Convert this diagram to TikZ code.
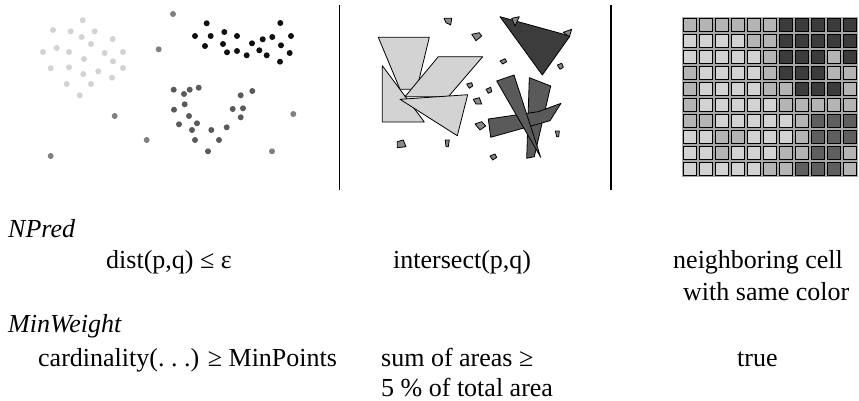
\documentclass[tikz,border=0pt]{standalone}
\usepackage{fontspec}
\setmainfont{Liberation Serif}
\definecolor{cL}{HTML}{D3D3D3}
\definecolor{cM}{HTML}{B4B4B4}
\definecolor{cD}{HTML}{3C3C3C}
\definecolor{cG}{HTML}{5F5F5F}
\definecolor{noise}{HTML}{808080}
\definecolor{dotlight}{HTML}{D3D3D3}
\definecolor{dotdark}{HTML}{5A5A5A}
\definecolor{dotblack}{HTML}{111111}
\definecolor{polylight}{HTML}{D3D3D3}
\definecolor{polydark}{HTML}{3C3C3C}
\definecolor{polymid}{HTML}{5A5A5A}
\definecolor{polysmall}{HTML}{888888}
\begin{document}
\begin{tikzpicture}[x=1pt,y=-1pt,
  txt/.style={anchor=base west,inner sep=0pt,font=\fontsize{26}{31}\selectfont},
  itxt/.style={txt,font=\fontsize{26}{31}\selectfont\itshape},
  poly/.style={draw=black,line width=0.8pt,line join=round},
  sep/.style={draw=black,line width=1.2pt}]
\useasboundingbox (0,0) rectangle (859,400);
% ---- panel 1: points
\foreach \p in {(82.7,20.3),(53,30),(70.7,31.3),(94.7,31.3),(81.7,37),(112.7,39),(91,44),(56.7,48),(43,52),(69,52),(104.7,53),(123,52),(84,59),(113,61.3),(50.7,68.3),(69,67.3),(123,68),(83.3,74),(98.3,71.3),(112,77.7),(66.7,84),(91,84),(79.7,95.3)}
  \fill[dotlight] \p circle (3);
\foreach \p in {(173,14),(158.7,49.3),(114.7,116),(50.7,156),(146.7,140),(293.3,114),(272,151.3)}
  \fill[noise] \p circle (3);
\foreach \p in {(206.7,23.3),(280.3,23),(195,36),(210.7,36),(224.3,32),(237,36),(291,36),(205,46),(223,44),(252,43.3),(262.7,39.3),(272.3,37),(281,45.3),(227,52.3),(237,51),(246.7,55.3),(259.3,50.3),(266.7,55.3),(289.7,53),(280,61.7)}
  \fill[dotblack] \p circle (3);
\foreach \p in {(173.7,89.7),(184,94),(189.7,89.7),(198.7,87.7),(184.7,104.3),(174,109.7),(189,116),(179,124.3),(197,123.3),(192,130),(195,140),(211.3,130),(219,140),(208,151.3),(226.7,127.3),(232.7,109),(243,108.3),(240.7,117.3),(240.7,95.3),(252.3,91)}
  \fill[dotdark] \p circle (3);
% ---- separators
\coordinate (s1t) at (339.5,5); \coordinate (s1b) at (339.5,190);
\coordinate (s2t) at (611,5);   \coordinate (s2b) at (611,190);
\draw[sep] (s1t) -- (s1b);
\draw[sep] (s2t) -- (s2b);
% ---- panel 2: polygons
\filldraw[poly,fill=polylight] (378.3,37.3) -- (429.3,37.3) -- (416.7,89.3) -- (400,89.3) -- cycle;
\filldraw[poly,fill=polylight] (382.3,65.7) -- (382.3,122) -- (424.3,122) -- cycle;
\filldraw[poly,fill=polylight] (438.3,56.7) -- (482.7,56.7) -- (448.3,96.7) -- (405,96.7) -- cycle;
\filldraw[poly,fill=polylight] (400,99.3) -- (467.7,94.7) -- (457.3,135.7) -- cycle;
\filldraw[poly,fill=polydark] (500,16.7) -- (570,36) -- (542.3,75) -- cycle;
\filldraw[poly,fill=polysmall] (511.7,18.3) -- (519.3,16.7) -- (515,26) -- cycle;
\filldraw[poly,fill=polysmall] (563.3,32.3) -- (571.7,29.3) -- (569.3,36.7) -- cycle;
\filldraw[poly,fill=polymid] (529.3,77.7) -- (550.7,86) -- (534.3,156.7) -- (526.7,158.3) -- cycle;
\filldraw[poly,fill=polymid] (488.3,119) -- (538.3,111.7) -- (561,103.3) -- (550,120.7) -- (490.7,137.3) -- cycle;
\filldraw[poly,fill=polymid] (496.7,81) -- (514,75) -- (540.7,157.3) -- cycle;
\filldraw[poly,fill=polysmall] (444,18.3) -- (451.7,18.3) -- (450.7,25) -- (446,22.7) -- cycle;
\filldraw[poly,fill=polysmall] (471.7,34.3) -- (479.3,32.7) -- (481.7,36) -- (476,40.7) -- cycle;
\filldraw[poly,fill=polysmall] (500,61) -- (505,58.7) -- (506.7,61.7) -- (502.7,64) -- cycle;
\filldraw[poly,fill=polysmall] (557.3,65) -- (561.7,63.3) -- (563.3,67.3) -- (560,69.3) -- cycle;
\filldraw[poly,fill=polysmall] (466.7,84) -- (471.7,82.7) -- (472.7,86) -- (469.3,88.3) -- cycle;
\filldraw[poly,fill=polysmall] (486,89.3) -- (490.7,87.3) -- (491.7,91.7) -- (488.3,93.3) -- cycle;
\filldraw[poly,fill=polysmall] (473.3,99.3) -- (479.3,97.7) -- (481.7,104) -- (476,104) -- cycle;
\filldraw[poly,fill=polysmall] (475,124) -- (481.7,121.7) -- (485.7,126) -- (480,130) -- cycle;
\filldraw[poly,fill=polysmall] (397.3,141.7) -- (403.3,140) -- (406,146.7) -- (397.3,147.7) -- cycle;
\filldraw[poly,fill=polysmall] (445.3,140) -- (449.3,140) -- (448.3,146.7) -- (446,146.7) -- cycle;
\filldraw[poly,fill=polysmall] (490,156) -- (495,154) -- (496.7,157.3) -- (492.7,160) -- cycle;
\filldraw[poly,fill=polysmall] (555.3,131) -- (559.3,131) -- (558.7,136.7) -- (556.7,136.7) -- cycle;
% ---- panel 3: grid
\fill[gray!70] (682,17) rectangle (858,177);
\foreach \row [count=\r from 0] in {
  {M,M,M,M,M,M,D,D,D,D,D},
  {L,L,L,L,M,M,D,D,D,D,D},
  {L,L,L,L,L,M,D,D,D,M,D},
  {M,L,L,L,L,M,D,D,D,M,M},
  {M,L,L,L,L,M,M,D,D,D,M},
  {M,L,L,L,L,L,M,M,M,M,M},
  {M,M,L,L,L,L,L,M,G,G,G},
  {L,L,M,M,L,L,L,M,G,G,G},
  {L,L,M,L,L,L,M,M,G,G,M},
  {L,L,L,L,L,M,M,G,G,G,M}}
  \foreach \c [count=\k from 0] in \row
    \filldraw[fill=c\c,draw=black,line width=1.3pt] ({682+16*\k+1.2},{17+16*\r+1.2}) rectangle +(13.6,13.6);
% ---- texts
\node[itxt] (npred) at (8,237) {NPred};
\node[txt] (dist) at (106,268) {dist(p,q) ≤ ε};
\node[txt] (inter) at (393,268) {intersect(p,q)};
\node[txt] (neigh) at (673,268) {neighboring cell};
\node[txt] (same) at (683,300) {with same color};
\node[itxt] (minw) at (8,332) {MinWeight};
\node[txt] (card) at (38,366) {cardinality(.~.~.) ≥ MinPoints};
\node[txt] (sum) at (381,366) {sum of areas ≥};
\node[txt] (pct) at (381,396) {5 \% of total area};
\node[txt] (true) at (737,366) {true};
\end{tikzpicture}
\end{document}
